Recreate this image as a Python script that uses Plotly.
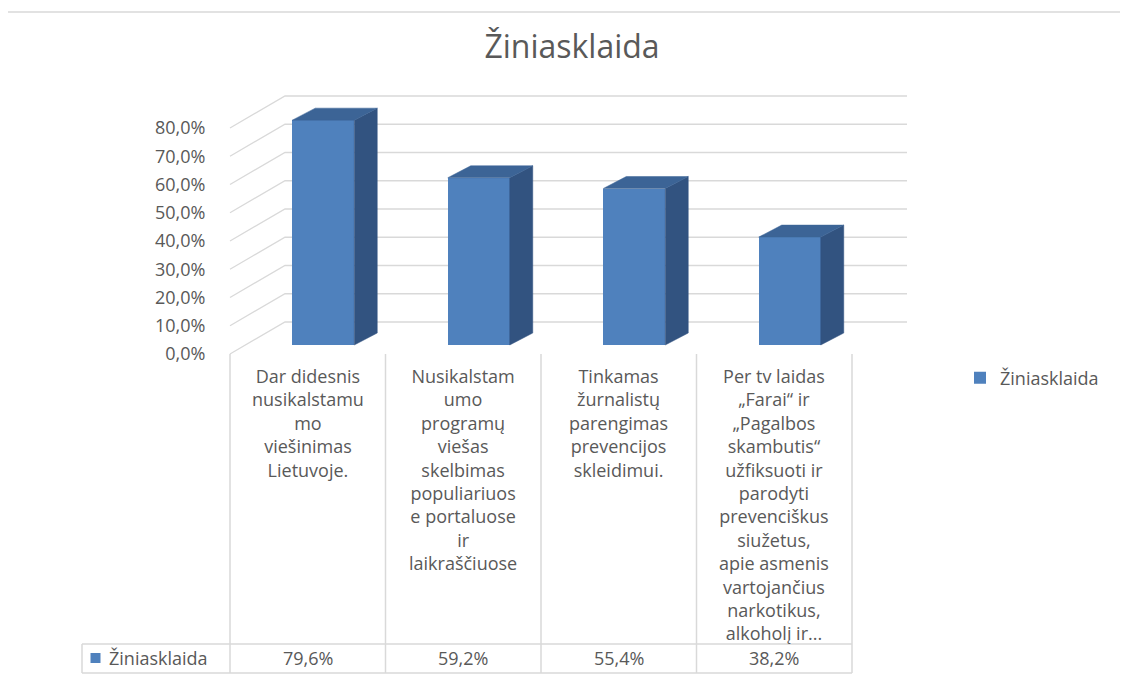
import plotly.graph_objects as go

# ---------------- data ----------------
SERIES_NAME = "Žiniasklaida"
CHART_TITLE = "Žiniasklaida"
CATEGORIES = [
    "Dar didesnis\nnusikalstamu\nmo\nviešinimas\nLietuvoje.",
    "Nusikalstam\numo\nprogramų\nviešas\nskelbimas\npopuliariuos\ne portaluose\nir\nlaikraščiuose",
    "Tinkamas\nžurnalistų\nparengimas\nprevencijos\nskleidimui.",
    "Per tv laidas\n„Farai“ ir\n„Pagalbos\nskambutis“\nužfiksuoti ir\nparodyti\nprevenciškus\nsiužetus,\napie asmenis\nvartojančius\nnarkotikus,\nalkoholį ir...",
]
VALUES = [79.6, 59.2, 55.4, 38.2]
TICK_VALUES = [0, 10, 20, 30, 40, 50, 60, 70, 80]


def pct_label(v):
    return f"{v:.1f}%".replace(".", ",")


TICK_TEXT = [pct_label(v) for v in TICK_VALUES]

# ---------------- layout constants ----------------
PAGE_OFF = 8                      # browser body margin
W, H = 1128 - PAGE_OFF, 681 - PAGE_OFF
X0_PX, CAT_PX = 230.0, 155.5      # screen px of left edge of first category, px per category
Y0_PX, PCT_PX = 354.0, 2.825      # screen px of front 0 %, px per percent
FONT = "Open Sans"
TXT = "#595959"
GRID = "#D9D9D9"
FRONT, TOP, SIDE = "#4F81BD", "#3C6496", "#325380"


def px_x(p):
    return (p - X0_PX) / CAT_PX - 0.5


def px_y(p):
    return (Y0_PX - p) / PCT_PX


def paper_x(p):
    return (p - PAGE_OFF) / W


def paper_y(p):
    return 1 - (p - PAGE_OFF) / H


# 3-D depth offsets (data units)
DX, DY = 55 / CAT_PX, 32 / PCT_PX       # full depth of the back wall
BX, BY = 15.5 / CAT_PX, 9 / PCT_PX      # bar front-face offset
SX, SY = 23 / CAT_PX, 12 / PCT_PX       # bar depth
BW = 62 / CAT_PX                        # bar width

n = len(VALUES)
xs = list(range(n))

fig = go.Figure()

# front faces
fig.add_trace(go.Bar(
    x=[i + BX for i in xs], y=VALUES, base=BY, width=BW,
    marker=dict(color=FRONT, line=dict(width=0)),
    name=SERIES_NAME, showlegend=True, hoverinfo="skip",
))

# side and top faces
for i, v in zip(xs, VALUES):
    l = i + BX - BW / 2
    r = i + BX + BW / 2
    b = BY
    t = BY + v
    fig.add_trace(go.Scatter(
        x=[r, r, r + SX, r + SX, r], y=[b, t, t + SY, b + SY, b],
        mode="lines", fill="toself", fillcolor=SIDE,
        line=dict(width=0.5, color=SIDE), showlegend=False, hoverinfo="skip"))
    fig.add_trace(go.Scatter(
        x=[l, r, r + SX, l + SX, l], y=[t, t, t + SY, t + SY, t],
        mode="lines", fill="toself", fillcolor=TOP,
        line=dict(width=0.5, color=TOP), showlegend=False, hoverinfo="skip"))

# table key marker
fig.add_trace(go.Scatter(
    x=[px_x(95.5)], y=[px_y(658)], mode="markers",
    marker=dict(symbol="square", size=10, color=FRONT),
    showlegend=False, hoverinfo="skip"))

shapes = []
# gridlines: front diagonal + back wall
left = -0.5
right = n - 0.5
for v in TICK_VALUES:
    shapes.append(dict(
        type="path", xref="x", yref="y", layer="below",
        path=f"M {left},{v} L {left + DX},{v + DY} L {right + DX},{v + DY}",
        line=dict(color=GRID, width=1.3)))

# data table
tbl_top, tbl_bot = px_y(644), px_y(673)
tbl_left = px_x(82)
for k in range(n + 1):
    shapes.append(dict(type="line", xref="x", yref="y", layer="below",
                       x0=left + k, x1=left + k, y0=0, y1=tbl_bot,
                       line=dict(color=GRID, width=1.5)))
for yy in (tbl_top, tbl_bot):
    shapes.append(dict(type="line", xref="x", yref="y", layer="below",
                       x0=tbl_left, x1=right, y0=yy, y1=yy,
                       line=dict(color=GRID, width=1.5)))
shapes.append(dict(type="line", xref="x", yref="y", layer="below",
                   x0=tbl_left, x1=tbl_left, y0=tbl_top, y1=tbl_bot,
                   line=dict(color=GRID, width=1.5)))

# outer chart border
shapes.append(dict(type="rect", xref="paper", yref="paper", layer="below",
                   x0=paper_x(7), x1=1.02, y0=-0.02, y1=paper_y(12),
                   line=dict(color=GRID, width=1.5)))

annotations = []
for i, c in zip(xs, CATEGORIES):
    annotations.append(dict(
        x=i, y=px_y(362), xref="x", yref="y", text=c.replace("\n", "<br>"),
        showarrow=False, yanchor="top", xanchor="center", align="center",
        font=dict(family=FONT, size=18, color=TXT)))
for i, v in zip(xs, VALUES):
    annotations.append(dict(
        x=i, y=px_y(658), xref="x", yref="y", text=pct_label(v),
        showarrow=False, yanchor="middle", xanchor="center",
        font=dict(family=FONT, size=18, color=TXT)))
annotations.append(dict(
    x=px_x(107), y=px_y(658), xref="x", yref="y", text=SERIES_NAME,
    showarrow=False, yanchor="middle", xanchor="left",
    font=dict(family=FONT, size=18, color=TXT)))

fig.update_layout(
    width=W, height=H,
    margin=dict(l=0, r=0, t=0, b=0, pad=0),
    paper_bgcolor="white", plot_bgcolor="white",
    title=dict(text=CHART_TITLE, x=paper_x(572), xanchor="center",
               xref="paper", y=paper_y(47), yanchor="middle", yref="container",
               font=dict(family=FONT, size=32, color=TXT)),
    xaxis=dict(range=[px_x(PAGE_OFF), px_x(PAGE_OFF + W)], visible=False, fixedrange=True),
    yaxis=dict(range=[px_y(PAGE_OFF + H), px_y(PAGE_OFF)], anchor="free",
               position=paper_x(X0_PX),
               tickmode="array", tickvals=TICK_VALUES, ticktext=TICK_TEXT,
               ticks="outside", ticklen=21, tickcolor="rgba(0,0,0,0)",
               showgrid=False, zeroline=False, showline=False,
               tickfont=dict(family=FONT, size=18, color=TXT), fixedrange=True),
    showlegend=True,
    legend=dict(x=paper_x(960), y=paper_y(378), xanchor="left", yanchor="middle",
                font=dict(family=FONT, size=18, color=TXT),
                bgcolor="rgba(0,0,0,0)", borderwidth=0),
    shapes=shapes, annotations=annotations,
    bargap=0,
)

fig.write_html("out.html")
